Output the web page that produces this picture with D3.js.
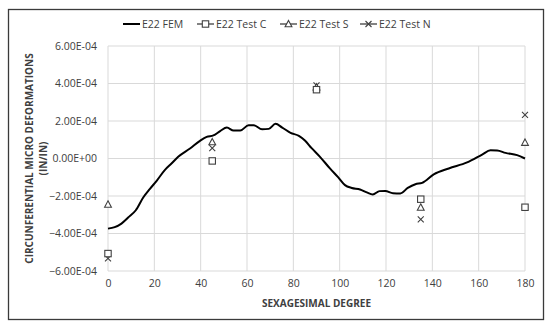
<!DOCTYPE html>
<html lang="en">
<head>
<meta charset="UTF-8">
<title>E22 circumferential micro deformations</title>
<script src="https://d3js.org/d3.v7.min.js"></script>
<style>
    body { margin: 0; background: #fff; }
    text { font-family: "Open Sans", sans-serif; fill: #404040; }
</style>
</head>
<body>
<svg id="chart"></svg>
<script>
    // FEM curve (degrees / strain)
    var femDeg = [0, 2.9, 5.8, 8.7, 12, 15.2, 18.1, 21, 24.5, 27.4, 30.3, 35.4, 39.7, 42.6, 45.5, 48.4,
        51.3, 54.2, 57.1, 60.7, 62.9, 66.5, 69.4, 72.3, 75.2, 78.8, 82.4, 85, 87.9, 91.5, 95.8, 99.4,
        102.3, 105.2, 108.8, 111.7, 114.3, 117.2, 119.7, 123, 126.2, 129.4, 132.7, 135.6, 140.6, 147.1,
        155, 161.5, 165.1, 168, 171.6, 176.6, 180];
    var femVal = [-3.74e-4, -3.66e-4, -3.47e-4, -3.15e-4, -2.76e-4, -2.08e-4, -1.62e-4, -1.19e-4, -0.62e-4,
        -0.27e-4, 0.09e-4, 0.53e-4, 0.94e-4, 1.15e-4, 1.23e-4, 1.46e-4, 1.65e-4, 1.49e-4, 1.49e-4, 1.78e-4,
        1.78e-4, 1.56e-4, 1.58e-4, 1.85e-4, 1.65e-4, 1.37e-4, 1.21e-4, 0.96e-4, 0.55e-4, 0.09e-4, -0.53e-4,
        -1.01e-4, -1.42e-4, -1.57e-4, -1.65e-4, -1.81e-4, -1.92e-4, -1.74e-4, -1.73e-4, -1.85e-4, -1.86e-4,
        -1.57e-4, -1.37e-4, -1.30e-4, -0.85e-4, -0.53e-4, -0.21e-4, 0.21e-4, 0.44e-4, 0.43e-4, 0.30e-4,
        0.18e-4, 0.0];

    // test readings
    var testDeg = [0, 45, 90, 135, 180];
    var testC = [-5.07e-4, -0.13e-4, 3.67e-4, -2.17e-4, -2.6e-4];
    var testS = [-2.45e-4, 0.88e-4, 3.8e-4, -2.61e-4, 0.85e-4];
    var testN = [-5.33e-4, 0.55e-4, 3.9e-4, -3.25e-4, 2.33e-4];

    var xTicks = [0, 20, 40, 60, 80, 100, 120, 140, 160, 180];
    var yTicks = [-6e-4, -4e-4, -2e-4, 0, 2e-4, 4e-4, 6e-4];
    var seriesNames = ["E22 FEM", "E22 Test C", "E22 Test S", "E22 Test N"];

    var W = 550, H = 327;
    var margin = { top: 46, right: 25, bottom: 56, left: 108 };
    var width = W - margin.left - margin.right,
        height = H - margin.top - margin.bottom;

    var svg = d3.select("#chart").attr("width", W).attr("height", H);

    // frame
    svg.append("rect")
        .attr("x", 8.5).attr("y", 9.5)
        .attr("width", 535).attr("height", 310)
        .attr("fill", "none").attr("stroke", "#3a3a3a").attr("stroke-width", 1.3);

    var g = svg.append("g").attr("transform", "translate(" + margin.left + "," + margin.top + ")");

    var x = d3.scaleLinear().domain([0, 180]).range([0, width]);
    var y = d3.scaleLinear().domain([-6e-4, 6e-4]).range([height, 0]);

    // grid
    g.append("g").selectAll("line").data(xTicks).enter().append("line")
        .attr("x1", d => x(d)).attr("x2", d => x(d))
        .attr("y1", 0).attr("y2", height)
        .attr("stroke", "#d9d9d9");
    g.append("g").selectAll("line").data(yTicks).enter().append("line")
        .attr("x1", 0).attr("x2", width)
        .attr("y1", d => y(d)).attr("y2", d => y(d))
        .attr("stroke", "#d9d9d9");

    // axes (labels only)
    var fmt = d => d === 0 ? "0.00E+00" : d3.format(".2e")(d).replace("e", "E").replace(/E([+-])(\d)$/, "E$10$2");
    var yAxis = g.append("g")
        .call(d3.axisLeft(y).tickValues(yTicks).tickFormat(fmt).tickSize(0).tickPadding(11));
    yAxis.select(".domain").remove();
    yAxis.selectAll("text").attr("font-size", 10.5).attr("font-family", "Open Sans").attr("fill", "#404040");

    var xAxis = g.append("g").attr("transform", "translate(0," + height + ")")
        .call(d3.axisBottom(x).tickValues(xTicks).tickSize(0).tickPadding(9));
    xAxis.select(".domain").remove();
    xAxis.selectAll("text").attr("font-size", 10.5).attr("font-family", "Open Sans").attr("fill", "#404040");

    // axis titles
    svg.append("text")
        .attr("x", margin.left + width / 2).attr("y", 307)
        .attr("text-anchor", "middle").attr("font-size", 10).attr("font-weight", "bold")
        .text("SEXAGESIMAL DEGREE");
    var yt = svg.append("text")
        .attr("transform", "translate(33," + (margin.top + height / 2) + ") rotate(-90)")
        .attr("text-anchor", "middle").attr("font-size", 10).attr("font-weight", "bold");
    yt.append("tspan").attr("x", 0).attr("y", 0).text("CIRCUNFERENTIAL MICRO DEFORMATIONS");
    yt.append("tspan").attr("x", 0).attr("y", 14).text("(IN/IN)");

    // FEM line
    var fem = femDeg.map((d, i) => [d, femVal[i]]);
    g.append("path")
        .datum(fem)
        .attr("fill", "none").attr("stroke", "#000").attr("stroke-width", 2)
        .attr("stroke-linejoin", "round")
        .attr("d", d3.line().x(d => x(d[0])).y(d => y(d[1])).curve(d3.curveMonotoneX));

    // markers
    var mk = "#404040";
    function square(sel) {
        sel.append("rect").attr("x", -3.2).attr("y", -3.2).attr("width", 6.4).attr("height", 6.4)
            .attr("fill", "#fff").attr("stroke", mk).attr("stroke-width", 1.1);
    }
    function triangle(sel) {
        sel.append("path").attr("d", "M0,-3.6L3.4,2.8L-3.4,2.8Z")
            .attr("fill", "#fff").attr("stroke", mk).attr("stroke-width", 1.1);
    }
    function cross(sel) {
        sel.append("path").attr("d", "M-3,-3L3,3M-3,3L3,-3")
            .attr("fill", "none").attr("stroke", mk).attr("stroke-width", 1.1);
    }
    function drawTest(vals, shape) {
        g.append("g").selectAll("g").data(testDeg).enter().append("g")
            .attr("transform", (d, i) => "translate(" + x(d) + "," + y(vals[i]) + ")")
            .each(function () { shape(d3.select(this)); });
    }
    drawTest(testN, cross);
    drawTest(testS, triangle);
    drawTest(testC, square);

    // legend
    var legX = [123, 197, 280, 360];
    var shapes = [null, square, triangle, cross];
    var leg = svg.append("g").attr("transform", "translate(0,24)");
    seriesNames.forEach(function (name, i) {
        var item = leg.append("g").attr("transform", "translate(" + legX[i] + ",0)");
        item.append("line").attr("x1", 0).attr("x2", 17).attr("y1", 0).attr("y2", 0)
            .attr("stroke", i === 0 ? "#000" : mk).attr("stroke-width", i === 0 ? 2 : 1.3);
        if (shapes[i]) {
            var s = item.append("g").attr("transform", "translate(8.5,0)");
            shapes[i](s);
        }
        item.append("text").attr("x", 19).attr("y", 0).attr("dy", "0.35em")
            .attr("font-size", 10.5).text(name);
    });
</script>
</body>
</html>
